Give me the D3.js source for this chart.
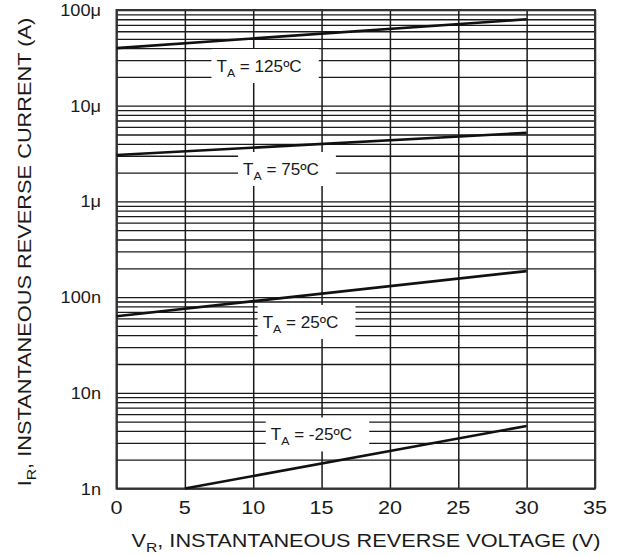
<!DOCTYPE html>
<html><head><meta charset="utf-8">
<script src="https://cdn.jsdelivr.net/npm/d3@7"></script>
<style>
body{margin:0;background:#fff}
text{font-family:"Liberation Sans",Arial,sans-serif;fill:#1a1a1a}
</style>
</head><body>
<svg id="c" width="620" height="556"></svg>
<script>
// ---- data ----
const voltageTicks = [0, 5, 10, 15, 20, 25, 30, 35];
const currentTicks = [1e-9, 1e-8, 1e-7, 1e-6, 1e-5, 1e-4];
const currentTickLabels = ["1n", "10n", "100n", "1μ", "10μ", "100μ"];
const seriesTemps = ["125", "75", "25", "-25"];
const seriesVoltage = [[0, 30], [0, 30], [0, 30], [5, 30]];
const seriesCurrent = [[40e-6, 80e-6], [3.05e-6, 5.2e-6], [63e-9, 187e-9], [1e-9, 4.5e-9]];
const labelVoltage = [10.43, 12.03, 13.46, 14.26];
const labelCurrent = [26e-6, 2.18e-6, 55e-9, 3.67e-9];

// ---- layout ----
const L = 116.5, R = 595, T = 10, B = 488.5;
const svg = d3.select("#c");
const x = d3.scaleLinear().domain([0, 35]).range([L, R]);
const y = d3.scaleLog().domain([1e-9, 1e-4]).range([B, T]);

// gridlines via axes
const gy = svg.append("g").attr("transform", `translate(${L},0)`)
  .call(d3.axisLeft(y).tickValues(y.ticks()).tickSize(-(R - L)).tickFormat(""));
gy.select(".domain").remove();
gy.selectAll(".tick line").attr("stroke", "#1a1a1a").attr("stroke-width", 1.3);

const gx = svg.append("g").attr("transform", `translate(0,${B})`)
  .call(d3.axisBottom(x).tickValues(voltageTicks).tickSize(-(B - T)).tickFormat(""));
gx.select(".domain").remove();
gx.selectAll(".tick line").attr("stroke", "#1a1a1a").attr("stroke-width", 1.5);

// border
svg.append("rect").attr("x", L).attr("y", T).attr("width", R - L).attr("height", B - T)
  .attr("fill", "none").attr("stroke", "#333").attr("stroke-width", 2);

// text helper
function sText(parent, tx, ty, anchor, size, S, parts, rot) {
  const g = parent.append("g").attr("transform", `translate(${tx},${ty}) rotate(${rot || 0}) scale(${S},1)`);
  const t = g.append("text").attr("text-anchor", anchor).attr("font-size", size);
  parts.forEach(p => {
    const ts = t.append("tspan").text(p.t);
    if (p.sub) ts.attr("font-size", size * 0.72).attr("dy", size * 0.3);
    if (p.back) ts.attr("dy", -size * 0.3);
  });
  return {g, t};
}

// data lines
const line = d3.line().x(d => x(d[0])).y(d => y(d[1]));
seriesTemps.forEach((s, i) => {
  const pts = seriesVoltage[i].map((v, k) => [v, seriesCurrent[i][k]]);
  svg.append("path").attr("d", line(pts)).attr("fill", "none")
    .attr("stroke", "#111").attr("stroke-width", 2.6);
});

// series labels with white boxes
seriesTemps.forEach((s, i) => {
  const cx = x(labelVoltage[i]), cy = y(labelCurrent[i]);
  const o = sText(svg, cx, cy + 6, "middle", 16, 1.07,
    [{t: "T"}, {t: "A", sub: true}, {t: " = " + s + "ºC", back: true}]);
  const bb = o.t.node().getBBox();
  o.g.insert("rect", "text").attr("x", bb.x - 5 / 1.07).attr("width", bb.width + 22 / 1.07)
    .attr("y", -6 - 17).attr("height", 34).attr("fill", "#fff");
});

// y tick labels
currentTicks.forEach((v, i) => {
  sText(svg, 101, y(v) + 6, "end", 17, 1.07, [{t: currentTickLabels[i]}]);
});
// x tick labels
voltageTicks.forEach(v => {
  sText(svg, x(v), 514, "middle", 18, 1.2, [{t: String(v)}]);
});

// axis titles
sText(svg, 366, 547, "middle", 17.5, 1.24,
  [{t: "V"}, {t: "R", sub: true}, {t: ", INSTANTANEOUS REVERSE VOLTAGE (V)", back: true}]);
sText(svg, 31, 252, "middle", 18, 1.21,
  [{t: "I"}, {t: "R", sub: true}, {t: ", INSTANTANEOUS REVERSE CURRENT (A)", back: true}], -90);
</script>
</body></html>
